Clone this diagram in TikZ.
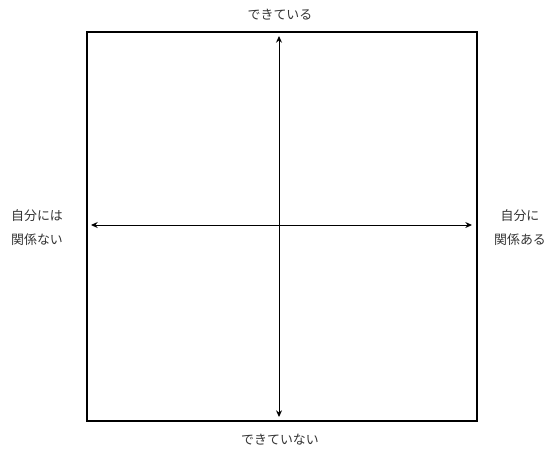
\documentclass[tikz,border=0pt]{standalone}
\usepackage{fontspec}
\setmainfont{Noto Sans CJK JP}
\usetikzlibrary{positioning, arrows.meta}
\definecolor{labelgray}{HTML}{333333}

\begin{document}
\begin{tikzpicture}[x=0.75pt, y=-0.75pt,
  font=\fontsize{9.7}{18.5}\selectfont,
  axislabel/.style={text=labelgray, align=center, inner sep=0pt},
  axisarrow/.style={{Stealth[length=5pt,width=4.5pt]}-{Stealth[length=5pt,width=4.5pt]}, line width=0.75pt}]
  \useasboundingbox (0,0) rectangle (556,450);
  \node (frame) [draw, line width=1.2pt, minimum width=390*0.75pt, minimum height=389*0.75pt, inner sep=0pt] at (282,226.5) {};
  % axis end points
  \coordinate (top) at (279,36);
  \coordinate (bottom) at (279,417);
  \coordinate (left) at (91,225);
  \coordinate (right) at (472,225);
  \draw[axisarrow] (bottom) -- (top);
  \draw[axisarrow] (left) -- (right);
  % labels
  \node (done) [axislabel] at (280,15) {できている};
  \node (notdone) [axislabel] at (280,440) {できていない};
  \node (unrelated) [axislabel] at (37,227.5) {自分には\\関係ない};
  \node (related) [axislabel] at (520,227.5) {自分に\\関係ある};
\end{tikzpicture}
\end{document}
